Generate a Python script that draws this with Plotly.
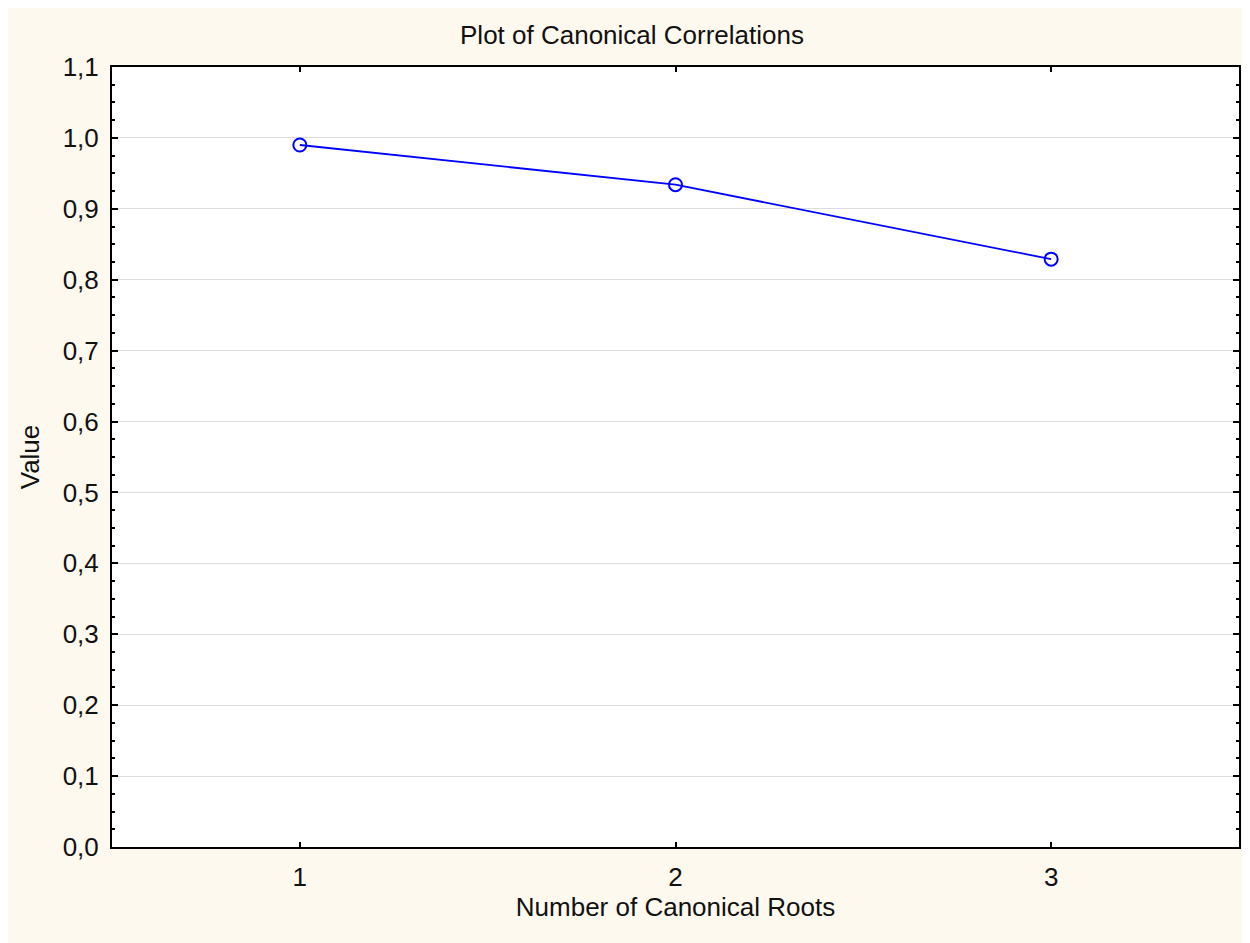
"""Plot of canonical correlations."""

import plotly.graph_objects as go

roots = [1, 2, 3]
canonical_r = [0.990, 0.934, 0.829]
y_ticks = [round(i * 0.1, 1) for i in range(12)]

INK = "#000000"
BLUE = "#0000FF"
FONT = "Liberation Sans, Arial, sans-serif"

# the page body has an 8px margin, so the figure is sized to fit the window
W, H = 1242, 935

fig = go.Figure()
fig.add_trace(
    go.Scatter(
        x=roots,
        y=canonical_r,
        mode="lines+markers",
        line=dict(color=BLUE, width=1.8),
        marker=dict(symbol="circle-open", size=13, color=BLUE, line=dict(width=2, color=BLUE)),
        showlegend=False,
    )
)

fig.update_layout(
    width=W,
    height=H,
    separators=", ",
    paper_bgcolor="#FEF9EE",
    plot_bgcolor="#FFFFFF",
    font=dict(family=FONT, color="#111111", size=26),
    title=dict(
        text="Plot of Canonical Correlations",
        x=0.5 + 3 / W,
        xanchor="center",
        y=1 - 27 / H,
        yanchor="middle",
        font=dict(size=26),
    ),
    margin=dict(l=104, r=11, t=59, b=96),
)

fig.update_xaxes(
    range=[0.5, 3.5],
    tickvals=roots,
    ticks="inside",
    ticklen=5,
    tickwidth=1.5,
    tickcolor=INK,
    ticklabelstandoff=6,
    showgrid=False,
    zeroline=False,
    showline=True,
    linecolor=INK,
    linewidth=2,
    mirror="ticks",
    automargin=False,
    title=dict(text="Number of Canonical Roots", font=dict(size=26), standoff=3),
    tickfont=dict(size=26),
)

fig.update_yaxes(
    range=[0, 1.1],
    tickvals=y_ticks,
    tickformat=".1f",
    ticks="inside",
    ticklen=6,
    tickwidth=1.5,
    tickcolor=INK,
    ticklabelstandoff=6,
    minor=dict(dtick=0.025, tick0=0, ticks="inside", ticklen=3, tickcolor=INK, showgrid=False),
    showgrid=True,
    gridcolor="#DCDCDC",
    gridwidth=1,
    zeroline=False,
    showline=True,
    linecolor=INK,
    linewidth=2,
    mirror="ticks",
    automargin=False,
    title=dict(text="Value", font=dict(size=26), standoff=16),
    tickfont=dict(size=26),
)

fig.write_html("out.html")
